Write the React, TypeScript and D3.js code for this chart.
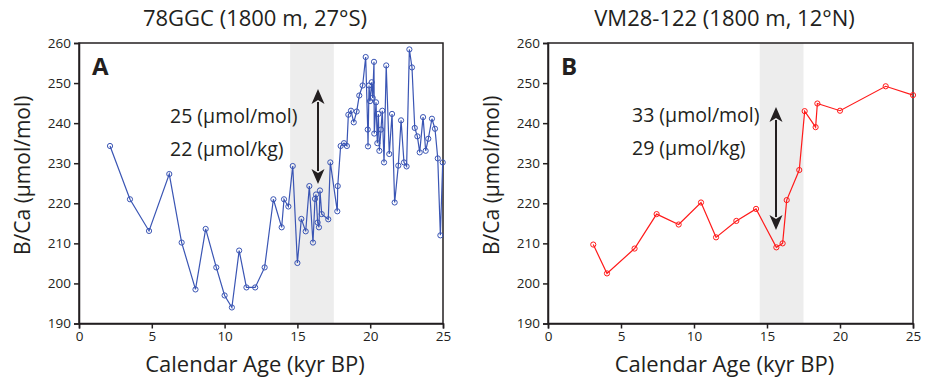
import React, { useEffect, useRef } from 'react'
import * as d3 from 'd3'

// Core 78GGC, ages (kyr BP) and B/Ca (umol/mol)
const ageA = [2.13, 3.5, 4.81, 6.2, 7.05, 8.0, 8.7, 9.43, 10.0, 10.5, 11.0, 11.5, 12.1, 12.75, 13.35,
  13.92, 14.08, 14.38, 14.68, 15.0, 15.27, 15.57, 15.82, 16.07, 16.21, 16.28, 16.39, 16.48, 16.55, 16.67,
  17.12, 17.26, 17.74, 17.77, 17.97, 18.2, 18.4, 18.5, 18.68, 18.87, 19.07, 19.25, 19.48, 19.69, 19.83,
  19.85, 19.92, 19.99, 20.1, 20.17, 20.26, 20.28, 20.4, 20.49, 20.56, 20.63, 20.74, 20.83, 20.95, 21.1,
  21.31, 21.5, 21.68, 21.93, 22.12, 22.32, 22.5, 22.69, 22.87, 23.06, 23.24, 23.4, 23.63, 23.81, 23.99,
  24.24, 24.45, 24.64, 24.82, 24.98]
const bcaA = [234.3, 221.0, 213.1, 227.3, 210.2, 198.5, 213.6, 204.0, 197.0, 194.0, 208.2, 199.0, 199.0, 204.0, 221.0,
  214.0, 221.0, 219.2, 229.3, 205.1, 216.1, 213.0, 224.3, 210.2, 221.1, 222.2, 215.2, 214.0, 223.2, 217.3,
  216.0, 230.2, 218.0, 224.3, 234.3, 235.0, 234.3, 242.1, 243.1, 240.2, 242.9, 246.9, 249.4, 256.5, 238.4,
  234.2, 249.4, 245.5, 250.2, 246.3, 255.3, 237.4, 245.2, 235.0, 242.3, 233.1, 238.4, 243.1, 230.2, 254.4,
  232.3, 242.3, 220.2, 229.4, 240.7, 230.2, 229.2, 258.4, 253.9, 238.8, 236.7, 232.7, 241.5, 233.1, 236.1,
  241.1, 238.6, 231.2, 212.0, 230.2]

// Core VM28-122
const ageB = [3.1, 4.04, 5.93, 7.44, 8.95, 10.48, 11.51, 12.9, 14.25, 15.64, 16.07, 16.35, 17.21, 17.58, 18.33, 18.45, 20.0, 23.13, 25.0]
const bcaB = [209.7, 202.5, 208.7, 217.3, 214.7, 220.2, 211.5, 215.6, 218.6, 209.0, 210.0, 220.8, 228.3, 243.0, 239.0, 244.9, 243.1, 249.2, 247.0]

const xTicks = [0, 5, 10, 15, 20, 25]
const yTicks = [190, 200, 210, 220, 230, 240, 250, 260]
const shadeRange = [14.5, 17.5]

const panels = [
  { letter: 'A', title: '78GGC (1800 m, 27°S)', ages: ageA, vals: bcaA, color: '#3a55b4',
    left: 79, right: 443, note1: '25 (µmol/mol)', note2: '22 (µmol/kg)', noteX: 170, noteY: 123, arrowX: 318, arrowTop: 89, arrowBot: 184 },
  { letter: 'B', title: 'VM28-122 (1800 m, 12°N)', ages: ageB, vals: bcaB, color: '#ff1a1a',
    left: 548, right: 913, note1: '33 (µmol/mol)', note2: '29 (µmol/kg)', noteX: 632, noteY: 122, arrowX: 776, arrowTop: 107, arrowBot: 230 },
]

const INK = '#231f20'
const FONT = '"Open Sans", "Noto Sans", sans-serif'

export default function App() {
  const svgRef = useRef<SVGSVGElement>(null)

  useEffect(() => {
    const svg = d3.select(svgRef.current)
    svg.selectAll('*').remove()
    const top = 43
    const bottom = 323.5

    panels.forEach(p => {
      const x = d3.scaleLinear().domain([0, 25]).range([p.left, p.right])
      const y = d3.scaleLinear().domain([190, 260]).range([bottom, top])
      const g = svg.append('g')

      // deglacial shading
      g.append('rect')
        .attr('x', x(shadeRange[0]))
        .attr('y', top)
        .attr('width', x(shadeRange[1]) - x(shadeRange[0]))
        .attr('height', bottom - top)
        .attr('fill', '#ededed')

      // notes sit under the frame/series
      g.append('text')
        .attr('x', p.noteX).attr('y', p.noteY)
        .style('font-family', FONT).style('font-size', '19.5px').attr('fill', INK)
        .text(p.note1)
      g.append('text')
        .attr('x', p.noteX).attr('y', p.noteY + 33)
        .style('font-family', FONT).style('font-size', '19.5px').attr('fill', INK)
        .text(p.note2)

      // frame
      g.append('rect')
        .attr('x', p.left).attr('y', top)
        .attr('width', p.right - p.left).attr('height', bottom - top)
        .attr('fill', 'none').attr('stroke', INK).attr('stroke-width', 1.5)

      const xAxis = g.append('g')
        .attr('transform', `translate(0,${bottom})`)
        .call(d3.axisBottom(x).tickValues(xTicks).tickSize(5).tickPadding(3).tickFormat(d3.format('d')))
      const yAxis = g.append('g')
        .attr('transform', `translate(${p.left},0)`)
        .call(d3.axisLeft(y).tickValues(yTicks).tickSize(5).tickPadding(3).tickFormat(d3.format('d')))
      ;[xAxis, yAxis].forEach(a => {
        a.select('.domain').attr('stroke', INK).attr('stroke-width', 1.5)
        a.selectAll('line').attr('stroke', INK).attr('stroke-width', 1.5)
        a.selectAll('text').style('font-family', FONT).style('font-size', '13.5px').attr('fill', INK)
      })

      // series
      const line = d3.line<number>().x((d, i) => x(p.ages[i])).y(d => y(d))
      g.append('path')
        .datum(p.vals)
        .attr('d', line)
        .attr('fill', 'none')
        .attr('stroke', p.color)
        .attr('stroke-width', 1.2)
      g.selectAll('.pt')
        .data(p.vals)
        .enter().append('circle')
        .attr('cx', (d, i) => x(p.ages[i]))
        .attr('cy', d => y(d))
        .attr('r', 2.6)
        .attr('fill', 'none')
        .attr('stroke', p.color)
        .attr('stroke-width', 1)

      // titles and labels
      g.append('text')
        .attr('x', (p.left + p.right) / 2 - 6).attr('y', 26)
        .attr('text-anchor', 'middle')
        .style('font-family', FONT).style('font-size', '22px').attr('fill', INK)
        .text(p.title)
      g.append('text')
        .attr('x', (p.left + p.right) / 2 - 6).attr('y', 372)
        .attr('text-anchor', 'middle')
        .style('font-family', FONT).style('font-size', '22px').attr('fill', INK)
        .text('Calendar Age (kyr BP)')
      g.append('text')
        .attr('transform', `translate(${p.left - 49},${(top + bottom) / 2 - 8}) rotate(-90)`)
        .attr('text-anchor', 'middle')
        .style('font-family', FONT).style('font-size', '21px').attr('fill', INK)
        .text('B/Ca (µmol/mol)')
      g.append('text')
        .attr('x', p.left + 13).attr('y', 75)
        .style('font-family', FONT).style('font-size', '24px').style('font-weight', 'bold').attr('fill', INK)
        .text(p.letter)

      // double-headed arrow
      const head = 15
      const hw = 6.5
      g.append('line')
        .attr('x1', p.arrowX).attr('x2', p.arrowX)
        .attr('y1', p.arrowTop + head - 2).attr('y2', p.arrowBot - head + 2)
        .attr('stroke', INK).attr('stroke-width', 2)
      g.append('path')
        .attr('d', `M${p.arrowX},${p.arrowTop} L${p.arrowX + hw},${p.arrowTop + head} L${p.arrowX},${p.arrowTop + head - 4} L${p.arrowX - hw},${p.arrowTop + head} Z`)
        .attr('fill', INK)
      g.append('path')
        .attr('d', `M${p.arrowX},${p.arrowBot} L${p.arrowX + hw},${p.arrowBot - head} L${p.arrowX},${p.arrowBot - head + 4} L${p.arrowX - hw},${p.arrowBot - head} Z`)
        .attr('fill', INK)
    })
  }, [])

  return (
    <svg
      ref={svgRef}
      width={927}
      height={379}
      style={{ position: 'absolute', left: 0, top: 0, background: '#fff' }}
    />
  )
}
